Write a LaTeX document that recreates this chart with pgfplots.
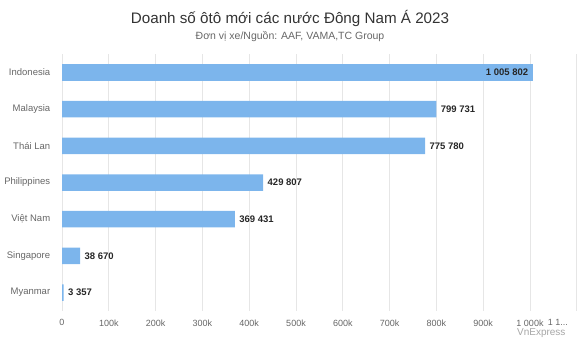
\documentclass[border=0pt]{standalone}
\usepackage{pgfplots}
\pgfplotsset{compat=1.18}
\usepackage{fontspec}
\setmainfont{Liberation Sans}
\definecolor{barc}{HTML}{7CB5EC}
\definecolor{titlec}{HTML}{333333}
\definecolor{subc}{HTML}{666666}
\definecolor{gridc}{HTML}{E6E6E6}
\begin{document}
\begin{tikzpicture}
\path[use as bounding box] (0,0) rectangle (580pt,-341pt);
\node[font=\fontsize{15.2}{18}\selectfont, text=titlec] at (290pt,-18pt) {Doanh số ôtô mới các nước Đông Nam Á 2023};
\node[font=\fontsize{10.5}{12}\selectfont, text=subc] at (290pt,-37pt) {Đơn vị xe/Nguồn: AAF, VAMA,TC Group};
\node[font=\fontsize{10}{12}\selectfont, text=gray!70, anchor=east] at (569pt,-333pt) {VnExpress};
\begin{axis}[
  at={(62pt,-311pt)}, anchor=south west,
  scale only axis, width=514.8pt, height=257pt,
  xmin=0, xmax=1100000, ymin=-0.5, ymax=6.5,
  y dir=reverse,
  xbar, bar width=16.5pt,
  ytick={0,1,2,3,4,5,6},
  yticklabels={Indonesia,Malaysia,Thái Lan,Philippines,Việt Nam,Singapore,Myanmar},
  xtick={0,100000,200000,300000,400000,500000,600000,700000,800000,900000,1000000},
  xticklabels={0,100k,200k,300k,400k,500k,600k,700k,800k,900k,1 000k},
  extra x ticks={1100000},
  extra x tick labels={1 1.\kern0pt.\kern0pt.},
  extra x tick style={xticklabel style={xshift=-19pt}},
  /pgf/number format/assume math mode=true,
  scaled x ticks=false,
  xmajorgrids, major grid style={draw=gridc, line width=0.8pt},
  axis line style={draw=none}, tick style={draw=none},
  xticklabel style={font=\fontsize{9}{10}\selectfont, text=subc, yshift=-5pt},
  yticklabel style={font=\fontsize{9.5}{10}\selectfont, text=subc, xshift=-4pt},
  point meta=explicit symbolic,
  nodes near coords,
  nodes near coords style={font=\bfseries\fontsize{9.5}{10}\selectfont, text=black!85},
]
\addplot[fill=barc, draw=none, bar shift=0pt,
  every node near coord/.append style={anchor=west, xshift=1pt}]
  coordinates {
  (799731,1) [799 731]
  (775780,2) [775 780]
  (429807,3) [429 807]
  (369431,4) [369 431]
  (38670,5) [38 670]
  (3357,6) [3 357]
};
\addplot[fill=barc, draw=none, bar shift=0pt,
  every node near coord/.append style={anchor=east, xshift=-1pt}]
  coordinates {
  (1005802,0) [1 005 802]
};
\end{axis}
\end{tikzpicture}
\end{document}
